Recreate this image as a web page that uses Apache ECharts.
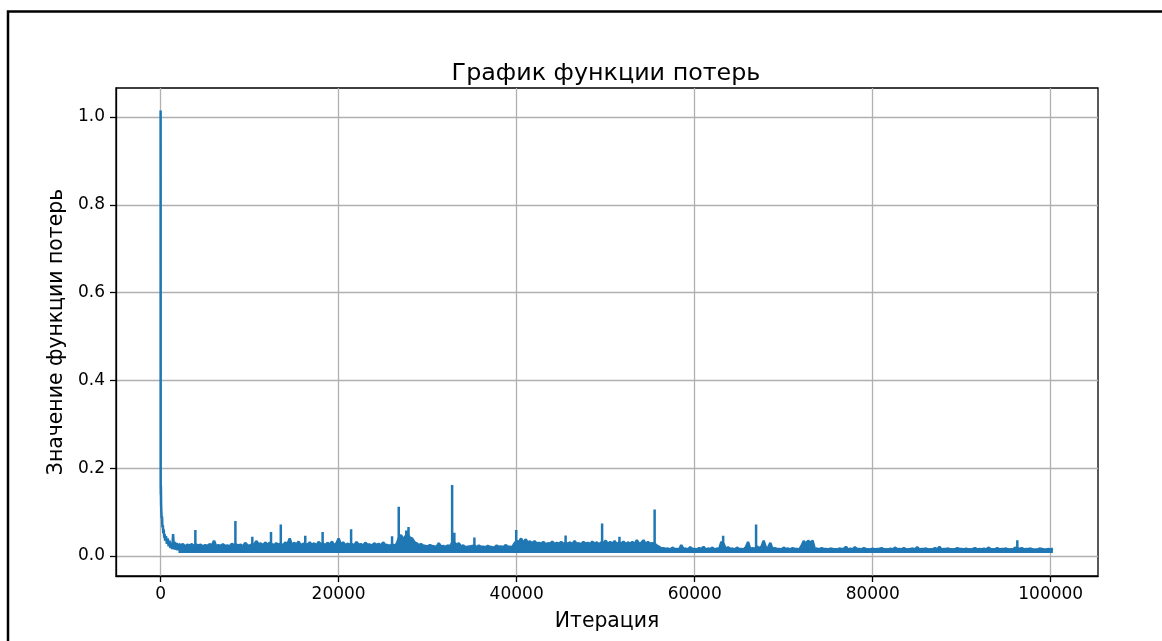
<!DOCTYPE html>
<html>
<head>
<meta charset="utf-8">
<script src="https://cdn.jsdelivr.net/npm/echarts@6/dist/echarts.min.js"></script>
<style>
html,body{margin:0;padding:0;background:#fff;}
#chart{width:1162px;height:641px;}
</style>
</head>
<body>
<div id="chart"></div>
<script>
// ---- data ----
const titleText = 'График функции потерь';
const xLabel = 'Итерация';
const yLabel = 'Значение функции потерь';
const xTicks = [0, 20000, 40000, 60000, 80000, 100000];
const yTicks = [0.0, 0.2, 0.4, 0.6, 0.8, 1.0];

// first iterations (fine resolution, raw noisy line)
const earlyIter = [0, 5, 10, 20, 30, 50, 80, 120, 160, 200, 250, 300, 350, 400, 450, 500, 600, 700, 800, 900, 1000, 1100, 1200, 1300, 1400, 1500, 1600, 1700, 1800, 1900];
const earlyLoss = [1.015, 0.21, 0.16, 0.14, 0.16, 0.12, 0.10, 0.085, 0.09, 0.065, 0.07, 0.052, 0.06, 0.042, 0.05, 0.035, 0.045, 0.028, 0.04, 0.022, 0.035, 0.018, 0.03, 0.016, 0.05, 0.015, 0.032, 0.014, 0.03, 0.013];

// rest of training: upper edge of the dense noise band, one value per 250 iterations from 2000
const mainStart = 2000;
const mainStep = 250;
const mainUpper = [
  // 2000-6750
  .028,.025,.027,.022,.026,.024,.027,.023,.026,.024,.026,.022,.025,.023,.027,.024,.035,.022,.025,.023,
  // 7000-11750
  .027,.023,.024,.022,.028,.025,.026,.024,.026,.022,.030,.025,.023,.027,.026,.034,.027,.029,.024,.031,
  // 12000-16750
  .026,.030,.027,.025,.029,.026,.028,.024,.031,.027,.040,.025,.030,.026,.033,.024,.028,.027,.026,.031,
  // 17000-21750
  .025,.029,.024,.032,.027,.028,.025,.030,.026,.033,.024,.029,.040,.026,.031,.025,.028,.026,.027,.024,
  // 22000-26750
  .032,.026,.027,.024,.030,.026,.026,.024,.029,.025,.028,.024,.031,.025,.025,.023,.026,.024,.027,.040,
  // 27000-31750
  .048,.038,.045,.050,.042,.040,.032,.029,.025,.027,.024,.023,.022,.025,.023,.022,.021,.029,.022,.023,
  // 32000-36750
  .021,.024,.022,.030,.030,.026,.029,.022,.024,.020,.021,.022,.023,.024,.020,.024,.021,.021,.020,.023,
  // 37000-41750
  .021,.020,.019,.024,.021,.022,.020,.025,.021,.021,.020,.029,.034,.032,.040,.030,.038,.031,.033,.029,
  // 42000-46750
  .034,.029,.030,.028,.032,.027,.029,.028,.033,.027,.030,.028,.032,.027,.030,.028,.031,.027,.034,.028,
  // 47000-51750
  .029,.027,.032,.028,.030,.027,.033,.028,.031,.027,.031,.029,.035,.027,.032,.028,.034,.027,.031,.028,
  // 52000-56750
  .033,.027,.031,.028,.032,.027,.036,.028,.030,.036,.027,.032,.028,.029,.028,.024,.021,.017,.018,.016,
  // 57000-61750
  .017,.015,.019,.016,.016,.015,.025,.016,.017,.015,.020,.016,.016,.015,.018,.016,.021,.015,.017,.016,
  // 62000-66750
  .019,.015,.017,.016,.032,.028,.016,.020,.016,.017,.015,.019,.016,.016,.015,.020,.032,.015,.018,.016,
  // 67000-71750
  .022,.018,.021,.035,.019,.019,.030,.016,.018,.016,.016,.015,.019,.016,.017,.015,.018,.016,.016,.015,
  // 72000-76750
  .023,.034,.028,.035,.030,.035,.016,.017,.015,.018,.016,.016,.015,.017,.016,.015,.015,.017,.016,.016,
  // 77000-81750
  .021,.015,.017,.015,.020,.016,.016,.015,.018,.016,.015,.015,.017,.015,.016,.016,.018,.015,.015,.015,
  // 82000-86750
  .017,.015,.019,.016,.016,.015,.018,.015,.015,.016,.017,.015,.020,.015,.016,.016,.017,.015,.015,.015,
  // 87000-91750
  .018,.015,.021,.015,.016,.016,.017,.015,.015,.015,.018,.016,.016,.015,.017,.015,.015,.016,.018,.015,
  // 92000-96750
  .016,.015,.017,.015,.019,.016,.015,.015,.018,.015,.016,.016,.017,.015,.015,.015,.019,.018,.016,.018,
  // 97000-100250
  .015,.016,.016,.017,.015,.015,.015,.017,.016,.015,.015,.016,.015,.017
];
// lower edge of the noise band (approx. constant)
const bandFloor = 0.007;

// isolated spikes sticking out of the band
const spikeIter = [3900, 8400, 10300, 12400, 13500, 16250, 18200, 21400, 26000, 26750, 27600, 27850, 32750, 33000, 35250, 39950, 45500, 49600, 51550, 55500, 63200, 66900, 96250];
const spikeLoss = [0.059, 0.080, 0.044, 0.055, 0.072, 0.046, 0.055, 0.061, 0.045, 0.112, 0.058, 0.066, 0.162, 0.053, 0.042, 0.059, 0.047, 0.074, 0.044, 0.106, 0.046, 0.072, 0.036];
const spikeBase = 0.015; // inside the band

// ---- build series data ----
const earlyData = [];
for (let i = 0; i < earlyIter.length; i++) earlyData.push([earlyIter[i], earlyLoss[i]]);
const mainData = [];
for (let i = 0; i < mainUpper.length; i++) mainData.push([mainStart + i * mainStep, mainUpper[i]]);
earlyData.push(mainData[0]);
const spikeData = [];
for (let i = 0; i < spikeIter.length; i++) {
  spikeData.push([spikeIter[i], spikeBase], [spikeIter[i], spikeLoss[i]], [spikeIter[i], spikeBase]);
}

const FONT = 'DejaVu Sans';
const BLUE = '#1f77b4';
const chart = echarts.init(document.getElementById('chart'), null, {renderer: 'canvas'});
chart.setOption({
  animation: false,
  backgroundColor: '#ffffff',
  title: {
    text: titleText,
    left: 601, top: 57, textAlign: 'center',
    textStyle: {fontFamily: FONT, fontSize: 23.8, fontWeight: 'normal', color: '#000'}
  },
  graphic: [{
    type: 'rect', silent: true,
    shape: {x: 8, y: 11.5, width: 1300, height: 800},
    style: {fill: 'none', stroke: '#000', lineWidth: 2.5}
  }],
  grid: {
    left: 116, top: 88, width: 982, height: 488,
    show: true, borderColor: '#000', borderWidth: 1.3, backgroundColor: 'transparent'
  },
  xAxis: {
    type: 'value', min: -5015, max: 105315,
    name: xLabel, nameLocation: 'middle', nameGap: 36,
    nameTextStyle: {fontFamily: FONT, fontSize: 20.4, color: '#000'},
    axisLine: {show: true, onZero: false, lineStyle: {color: '#000', width: 1.3}},
    axisTick: {show: true, inside: false, length: 6, customValues: xTicks, lineStyle: {color: '#000', width: 1.3}},
    axisLabel: {customValues: xTicks, margin: 10, fontFamily: FONT, fontSize: 17, color: '#000', formatter: v => String(v)},
    splitLine: {show: true, lineStyle: {color: '#b0b0b0', width: 1.3}}
  },
  yAxis: {
    type: 'value', min: -0.0455, max: 1.066,
    name: yLabel, nameLocation: 'middle', nameGap: 41, nameRotate: 90,
    nameTextStyle: {fontFamily: FONT, fontSize: 20.4, color: '#000'},
    axisLine: {show: true, onZero: false, lineStyle: {color: '#000', width: 1.3}},
    axisTick: {show: true, inside: false, length: 6, customValues: yTicks, lineStyle: {color: '#000', width: 1.3}},
    axisLabel: {customValues: yTicks, margin: 11, fontFamily: FONT, fontSize: 17, color: '#000', formatter: v => v.toFixed(1)},
    splitLine: {show: true, lineStyle: {color: '#b0b0b0', width: 1.3}}
  },
  series: [{
    type: 'line',
    name: 'early',
    data: earlyData,
    showSymbol: false, symbol: 'none', sampling: null,
    lineStyle: {color: BLUE, width: 2.5},
    itemStyle: {color: BLUE},
    z: 3
  }, {
    type: 'line',
    name: 'main',
    data: mainData,
    showSymbol: false, symbol: 'none', sampling: null,
    lineStyle: {color: BLUE, width: 2.5},
    itemStyle: {color: BLUE},
    areaStyle: {color: BLUE, opacity: 1, origin: bandFloor},
    z: 3
  }, {
    type: 'line',
    name: 'spikes',
    data: spikeData,
    showSymbol: false, symbol: 'none', sampling: null,
    lineStyle: {color: BLUE, width: 2.5},
    itemStyle: {color: BLUE},
    z: 4
  }]
});
</script>
</body>
</html>
